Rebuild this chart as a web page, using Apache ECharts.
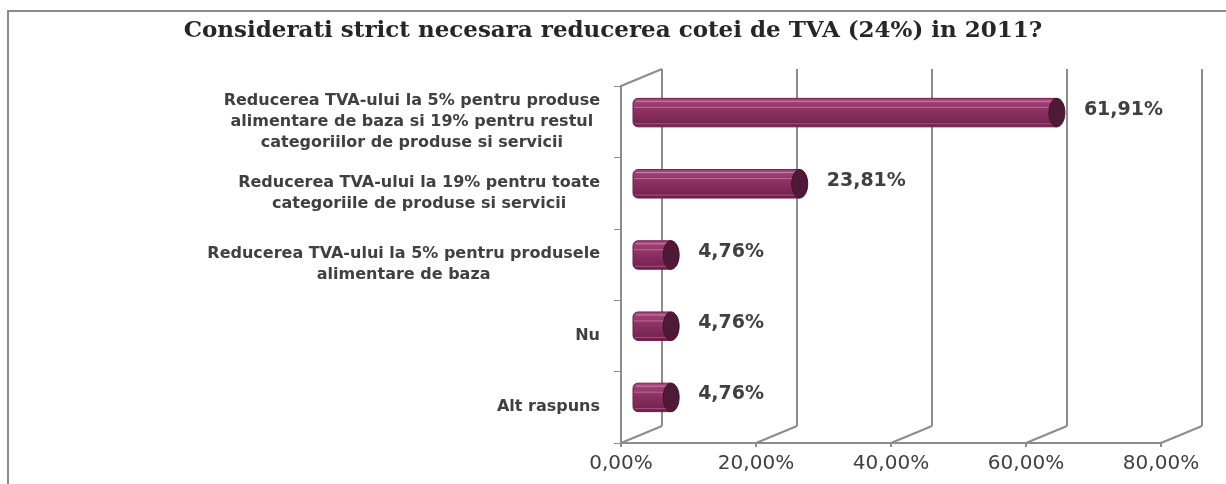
<!DOCTYPE html>
<html>
<head>
<meta charset="utf-8">
<script src="https://cdn.jsdelivr.net/npm/echarts@6/dist/echarts.min.js"></script>
<style>
  html, body { margin: 0; padding: 0; background: #fff; }
  #container { width: 1226px; height: 484px; }
</style>
</head>
<body>
<div id="container"></div>
<script>
// date
var categories = [
    'Reducerea TVA-ului la 5% pentru produse\nalimentare de baza si 19% pentru restul\ncategoriilor de produse si servicii',
    'Reducerea TVA-ului la 19% pentru toate\ncategoriile de produse si servicii',
    'Reducerea TVA-ului la 5% pentru produsele\nalimentare de baza',
    'Nu',
    'Alt raspuns'
];
var values = [61.91, 23.81, 4.76, 4.76, 4.76];
var xTicks = [0, 20, 40, 60, 80];

(function(){
	var dom = document.getElementById("container");
	var myChart = echarts.init(dom);
	var textColor = '#404040';
	var gridColor = '#8c8c8c';

	function pct(v) {
	    return v.toFixed(2).replace('.', ',') + '%';
	}

	// cilindru "3D" pentru fiecare bara
	function renderBar(params, api) {
	    var v = api.value(0), idx = api.value(1);
	    var start = api.coord([0, idx]);
	    var end = api.coord([v, idx]);
	    var h = api.size([0, 1])[1] * 0.4;
	    var x0 = start[0] - 14, x1 = end[0], yc = end[1];
	    var top = yc - h / 2;
	    var capR = 8;
	    return {
	        type: 'group',
	        children: [
	            {
	                type: 'rect',
	                shape: { x: x0, y: top, width: x1 - x0 - capR, height: h, r: [5, 0, 0, 5] },
	                style: {
	                    fill: new echarts.graphic.LinearGradient(0, 0, 0, 1, [
	                        { offset: 0, color: '#a8497d' },
	                        { offset: 0.35, color: '#923468' },
	                        { offset: 1, color: '#6e1f49' }
	                    ]),
	                    stroke: '#741f4d',
	                    lineWidth: 1
	                }
	            },
	            {
	                type: 'line',
	                shape: { x1: x0 + 3, y1: top + 3, x2: x1 - capR, y2: top + 3 },
	                style: { stroke: '#c585a8', lineWidth: 1 }
	            },
	            {
	                type: 'line',
	                shape: { x1: x0 + 1, y1: top + 9, x2: x1 - capR, y2: top + 9 },
	                style: { stroke: '#b8709a', lineWidth: 1 }
	            },
	            {
	                type: 'line',
	                shape: { x1: x0 + 2, y1: top + h - 3, x2: x1 - capR, y2: top + h - 3 },
	                style: { stroke: '#a0557f', lineWidth: 1 }
	            },
	            {
	                type: 'ellipse',
	                shape: { cx: x1 - capR, cy: yc, rx: capR, ry: h / 2 },
	                style: { fill: '#4f1a38', stroke: '#3e1229', lineWidth: 1 }
	            },
	            {
	                type: 'text',
	                style: {
	                    x: x1 + 19,
	                    y: yc - 3,
	                    text: pct(v),
	                    fill: textColor,
	                    font: 'bold 19px "DejaVu Sans"',
	                    verticalAlign: 'middle'
	                }
	            }
	        ]
	    };
	}

	// liniile oblice ale podelei si peretelui stang
	function renderFloor(params, api) {
	    var cs = params.coordSys;
	    var x = api.coord([api.value(0), 0])[0];
	    var yb = cs.y + cs.height;
	    var children = [{
	        type: 'line',
	        shape: { x1: x, y1: yb, x2: x + 41, y2: yb - 17 },
	        style: { stroke: gridColor, lineWidth: 2 }
	    }];
	    if (params.dataIndex === 0) {
	        children.push({
	            type: 'line',
	            shape: { x1: cs.x, y1: cs.y, x2: cs.x + 41, y2: cs.y - 17 },
	            style: { stroke: gridColor, lineWidth: 2 }
	        });
	    }
	    return { type: 'group', children: children };
	}

	var option = {
	    backgroundColor: '#fff',
	    animation: false,
	    title: {
	        text: 'Considerati strict necesara reducerea cotei de TVA (24%) in 2011?',
	        left: 'center',
	        top: 15,
	        textStyle: {
	            fontFamily: 'DejaVu Serif',
	            fontWeight: 'bold',
	            fontSize: 23,
	            color: '#262626'
	        }
	    },
	    graphic: [{
	        type: 'rect',
	        shape: { x: 8, y: 11, width: 1240, height: 500 },
	        style: { fill: null, stroke: '#8c8c8c', lineWidth: 2 },
	        silent: true
	    }],
	    grid: [
	        // peretele din spate
	        { left: 662, right: 24, top: 69, bottom: 58 },
	        // planul din fata (axe)
	        { left: 621, right: 65, top: 86, bottom: 41 },
	        // planul barelor
	        { left: 647, right: 39, top: 77, bottom: 51 }
	    ],
	    xAxis: [
	        {
	            gridIndex: 0, type: 'value', min: 0, max: 80, interval: 20,
	            axisLine: { show: false }, axisTick: { show: false }, axisLabel: { show: false },
	            splitLine: { show: true, lineStyle: { color: gridColor, width: 2 } }
	        },
	        {
	            gridIndex: 1, type: 'value', min: 0, max: 80, interval: 20,
	            axisLine: { show: true, lineStyle: { color: gridColor, width: 2 } },
	            axisTick: { show: true, length: 4, lineStyle: { color: gridColor, width: 2 } },
	            splitLine: { show: false },
	            axisLabel: {
	                margin: 11,
	                color: textColor,
	                fontFamily: 'DejaVu Sans',
	                fontSize: 20,
	                formatter: pct
	            }
	        },
	        {
	            gridIndex: 2, type: 'value', min: 0, max: 80, interval: 20, show: false
	        }
	    ],
	    yAxis: [
	        { gridIndex: 0, type: 'category', data: categories, inverse: true, show: false },
	        {
	            gridIndex: 1, type: 'category', data: categories, inverse: true,
	            axisLine: { show: true, lineStyle: { color: gridColor, width: 2 } },
	            axisTick: { show: true, length: 7, lineStyle: { color: gridColor, width: 1 } },
	            axisLabel: {
	                margin: 21,
	                align: 'right',
	                formatter: function (v) {
	                    return v.split('\n').map(function (l) { return '{c|' + l + '}'; }).join('\n');
	                },
	                rich: {
	                    c: {
	                        align: 'center',
	                        fontFamily: 'DejaVu Sans',
	                        fontWeight: 'bold',
	                        fontSize: 16,
	                        lineHeight: 21,
	                        color: textColor
	                    }
	                }
	            }
	        },
	        { gridIndex: 2, type: 'category', data: categories, inverse: true, show: false }
	    ],
	    series: [
	        {
	            type: 'custom',
	            xAxisIndex: 1, yAxisIndex: 1,
	            renderItem: renderFloor,
	            data: xTicks.map(function (t) { return [t]; }),
	            silent: true
	        },
	        {
	            name: 'Raspunsuri',
	            type: 'custom',
	            xAxisIndex: 2, yAxisIndex: 2,
	            renderItem: renderBar,
	            data: values.map(function (v, i) { return [v, i]; })
	        }
	    ]
	};
	myChart.setOption(option, true);
})();
</script>
</body>
</html>
